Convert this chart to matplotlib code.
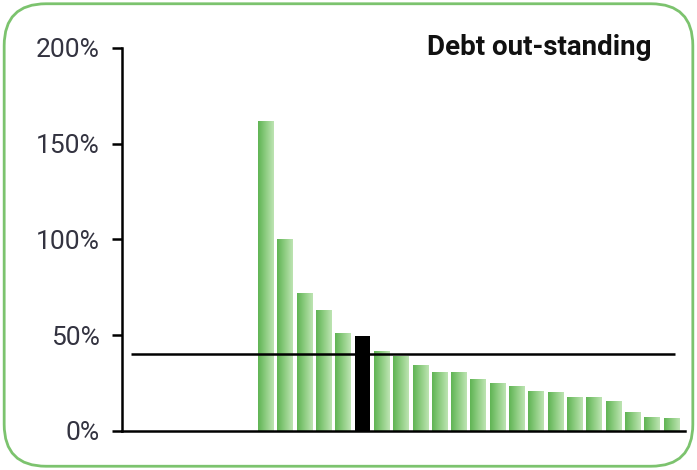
import matplotlib.pyplot as plt
import numpy as np
from matplotlib.patches import FancyBboxPatch
from matplotlib.colors import LinearSegmentedColormap
from matplotlib.ticker import FuncFormatter

# Roboto is the narrowest installed face, closest to the tall labels
plt.rcParams['font.family'] = ['Roboto', 'DejaVu Sans']

# data (percent of GDP), first slots are empty in the original
n_empty = 7
debt = [162, 100, 72, 63, 51, 49.5, 42, 39, 34.5, 31, 31, 27, 25, 23.5,
        21, 20.5, 18, 18, 15.5, 10, 7.5, 7]
highlight = 5          # black bar
average = 40
title = 'Debt out-standing'
yticks = [0, 50, 100, 150, 200]

fig = plt.figure(figsize=(6.97, 4.70), dpi=100)
ax = fig.add_axes([0.175, 0.083, 0.808, 0.815])

x = np.arange(n_empty, n_empty + len(debt))
bars = ax.bar(x, debt, width=0.8, color='none', edgecolor='none', zorder=2)

grad = LinearSegmentedColormap.from_list('g', ['#5fb454', '#8fcd82', '#bde4b3'])
img = np.linspace(0, 1, 64).reshape(1, -1)
for i, b in enumerate(bars):
    if i == highlight:
        b.set_facecolor('black')
        continue
    x0, w, h = b.get_x(), b.get_width(), b.get_height()
    im = ax.imshow(img, cmap=grad, aspect='auto', extent=(x0, x0 + w, 0, h),
                   zorder=2, interpolation='bicubic')
    im.set_clip_path(b)

ax.hlines(average, 0, n_empty + len(debt) - 0.8, color='black', lw=1.8, zorder=3)

ax.set_xlim(-0.45, n_empty + len(debt) - 0.28)
ax.set_ylim(0, 200)
ax.set_yticks(yticks)
ax.yaxis.set_major_formatter(FuncFormatter(lambda v, p: f'{v:.0f}%'))
ax.set_xticks([])
for s in ['top', 'right']:
    ax.spines[s].set_visible(False)
for s in ['left', 'bottom']:
    ax.spines[s].set_linewidth(1.8)
ax.tick_params(axis='y', length=7, width=1.8, pad=9, labelsize=19,
               labelcolor='#333340')

ax.text(0.94, 1.0, title, transform=ax.transAxes, ha='right', va='center',
        fontsize=20, fontweight='bold', color='#111111')

# rounded green frame
frame = FancyBboxPatch((0.006, 0.008), 0.988, 0.984,
                       boxstyle='round,pad=0,rounding_size=0.06',
                       transform=fig.transFigure, facecolor='none',
                       edgecolor='#7cc36e', lw=2, mutation_aspect=697/470)
fig.patches.append(frame)

fig.savefig('out.png', dpi=100, facecolor='white')
